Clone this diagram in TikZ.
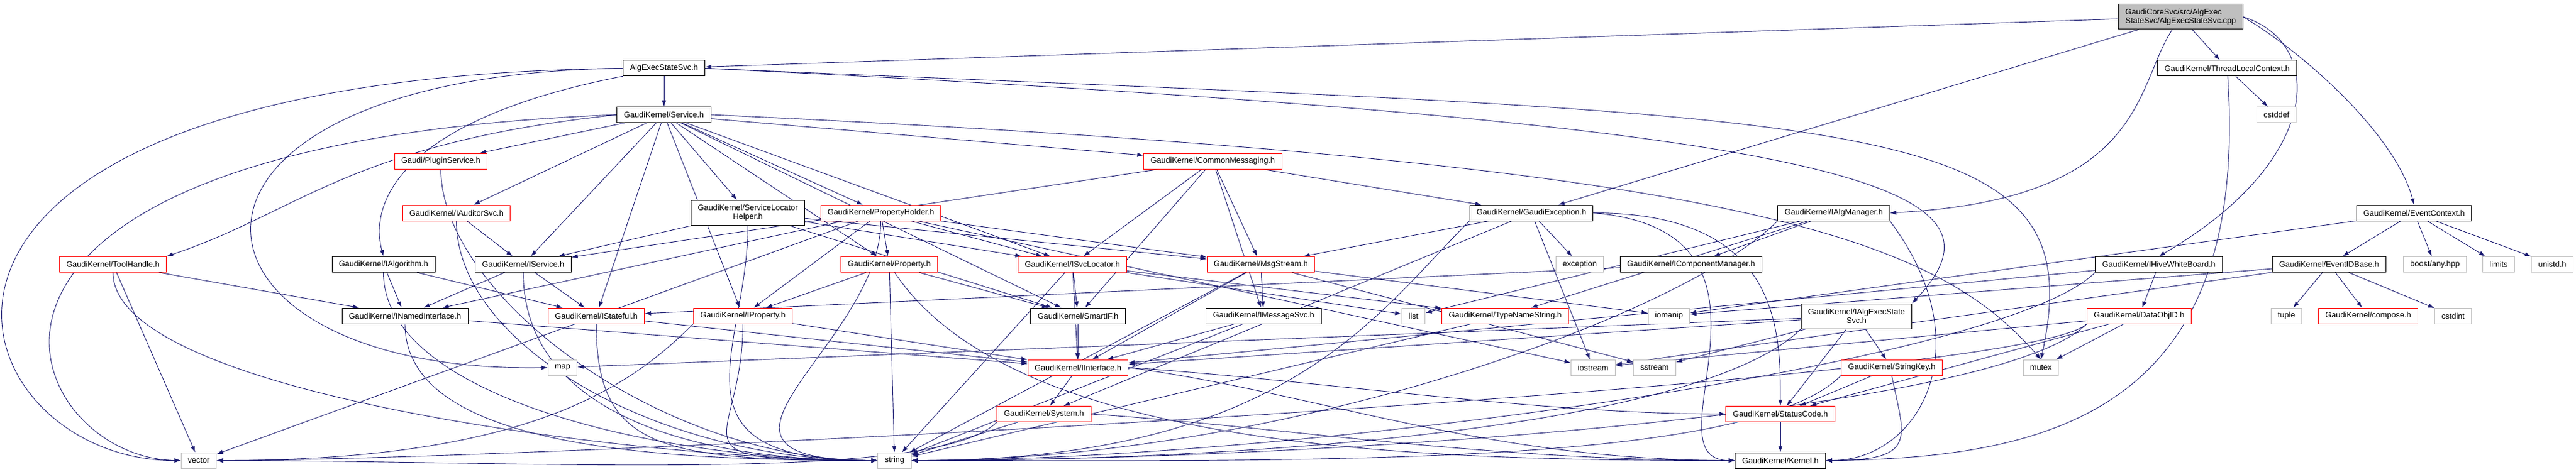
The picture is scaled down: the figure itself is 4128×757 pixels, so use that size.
\documentclass[tikz,border=0pt]{standalone}
\usepackage{fontspec}
\setmainfont{Liberation Sans}
\usepackage{tikz}
\usetikzlibrary{arrows.meta,backgrounds}

\definecolor{edgeblue}{RGB}{25,25,112}
\definecolor{sysgray}{RGB}{191,191,191}
\definecolor{rootgray}{RGB}{191,191,191}

\tikzset{
  hdr/.style={draw=black, line width=1pt, fill=white, minimum height=25pt,
    inner xsep=11pt, inner ysep=2pt, align=center,
    font=\fontsize{12.8}{14}\selectfont},
  redhdr/.style={hdr, draw=red},
  syshdr/.style={hdr, draw=sysgray},
  inc/.style={draw=edgeblue, line width=0.9pt, -{Latex[length=10pt,width=7pt]}}
}

\begin{document}
\begin{tikzpicture}[x=1pt,y=-1pt]
\useasboundingbox (0,0) rectangle (4128,757);

% files
\node[hdr, fill=rootgray, align=left, minimum height=40pt] (root) at (3494.5,27) {GaudiCoreSvc/src/AlgExec\\StateSvc/AlgExecStateSvc.cpp};
\node[hdr] (alg) at (1064,109.5) {AlgExecStateSvc.h};
\node[hdr] (tlc) at (3569,109.5) {GaudiKernel/ThreadLocalContext.h};
\node[hdr] (svc) at (1064,184) {GaudiKernel/Service.h};
\node[syshdr] (cstddef) at (3648,184) {cstddef};
\node[redhdr] (plugin) at (706.5,258.5) {Gaudi/PluginService.h};
\node[redhdr] (cm) at (1943.5,258.5) {GaudiKernel/CommonMessaging.h};
\node[redhdr] (iaud) at (731.5,341.5) {GaudiKernel/IAuditorSvc.h};
\node[hdr, minimum height=40pt] (slh) at (1198.5,341) {GaudiKernel/ServiceLocator\\Helper.h};
\node[redhdr] (ph) at (1411.5,341.5) {GaudiKernel/PropertyHolder.h};
\node[hdr] (gexc) at (2454,341.5) {GaudiKernel/GaudiException.h};
\node[hdr] (ialgmgr) at (2938.5,341.5) {GaudiKernel/IAlgManager.h};
\node[hdr] (evctx) at (3868.5,341.5) {GaudiKernel/EventContext.h};

\node[redhdr] (tool) at (181,424) {GaudiKernel/ToolHandle.h};
\node[hdr] (ialgo) at (614.5,424) {GaudiKernel/IAlgorithm.h};
\node[hdr] (isvc) at (838.5,424) {GaudiKernel/IService.h};
\node[redhdr] (prop) at (1425,424) {GaudiKernel/Property.h};
\node[redhdr] (isl) at (1718.5,424) {GaudiKernel/ISvcLocator.h};
\node[redhdr] (msg) at (2020.5,424) {GaudiKernel/MsgStream.h};
\node[syshdr] (exception) at (2531.5,424) {exception};
\node[hdr] (icm) at (2710,424) {GaudiKernel/IComponentManager.h};
\node[hdr] (ihive) at (3459.5,424) {GaudiKernel/IHiveWhiteBoard.h};
\node[hdr] (eidb) at (3732.5,424) {GaudiKernel/EventIDBase.h};
\node[syshdr] (boost) at (3902,424) {boost/any.hpp};
\node[syshdr] (limits) at (4004,424) {limits};
\node[syshdr] (unistd) at (4090,424) {unistd.h};

\node[hdr] (inamed) at (649,506.5) {GaudiKernel/INamedInterface.h};
\node[redhdr] (istate) at (955.5,506.5) {GaudiKernel/IStateful.h};
\node[redhdr] (iprop) at (1190.5,506.5) {GaudiKernel/IProperty.h};
\node[hdr] (smart) at (1727.5,506.5) {GaudiKernel/SmartIF.h};
\node[hdr] (imsg) at (2025,506.5) {GaudiKernel/IMessageSvc.h};
\node[syshdr] (list) at (2265,506.5) {list};
\node[redhdr] (typename) at (2412,506.5) {GaudiKernel/TypeNameString.h};
\node[syshdr] (iomanip) at (2674.5,506.5) {iomanip};
\node[hdr, minimum height=40pt] (iaes) at (2975,507) {GaudiKernel/IAlgExecState\\Svc.h};
\node[redhdr] (dataobj) at (3428,506.5) {GaudiKernel/DataObjID.h};
\node[syshdr] (tuple) at (3664,506.5) {tuple};
\node[redhdr] (compose) at (3795,506.5) {GaudiKernel/compose.h};
\node[syshdr] (cstdint) at (3931,506.5) {cstdint};

\node[syshdr] (map) at (901.5,589.5) {map};
\node[redhdr] (iint) at (1727.5,589.5) {GaudiKernel/IInterface.h};
\node[syshdr] (iostream) at (2553,589.5) {iostream};
\node[syshdr] (sstream) at (2651.5,589.5) {sstream};
\node[redhdr] (stringkey) at (3031.5,589.5) {GaudiKernel/StringKey.h};
\node[syshdr] (mutex) at (3270.5,589.5) {mutex};

\node[redhdr] (system) at (1673,664) {GaudiKernel/System.h};
\node[redhdr] (statuscode) at (2853,664) {GaudiKernel/StatusCode.h};

\node[syshdr] (vec) at (318.5,738.5) {vector};
\node[syshdr] (string) at (1433.5,738.5) {string};
\node[hdr] (kernel) at (2853,738.5) {GaudiKernel/Kernel.h};

% includes
\begin{pgfonlayer}{background}
\draw[inc] (root) -- (alg);
\draw[inc] (root) -- (tlc);
\draw[inc] (root) -- (gexc);
\draw[inc] (root) .. controls (3420,140) and (3440,320) .. (ialgmgr.east);
\draw[inc] (root.east) .. controls (3730,70) and (3720,260) .. (ihive.north);
\draw[inc] (root.east) .. controls (3700,90) and (3840,220) .. (evctx.north);

\draw[inc] (alg) -- (svc);
\draw[inc] (alg) .. controls (650,190) and (590,320) .. (ialgo.north);
\draw[inc] (alg.west) .. controls (-300,125) and (-80,740) .. (vec.west);
\draw[inc] (alg.west) .. controls (200,120) and (250,600) .. (map.west);
\draw[inc] (alg.east) .. controls (3000,190) and (3360,170) .. (mutex.north);
\draw[inc] (alg.east) .. controls (3000,200) and (3240,300) .. (iaes.north east);

\draw[inc] (svc.west) .. controls (560,230) and (480,340) .. (tool.north east);
\draw[inc] (svc.west) .. controls (-200,230) and (30,735) .. (vec.west);
\draw[inc] (svc.east) .. controls (2800,260) and (3100,380) .. (mutex.north);
\foreach \t in {plugin,iaud,isvc,istate,iprop,slh,ph,cm,prop,isl,smart}
  \draw[inc] (svc) -- (\t);

\draw[inc] (tlc) -- (cstddef);
\draw[inc] (tlc) .. controls (3605,650) and (3300,735) .. (kernel.east);
\foreach \t in {eidb,boost,limits,unistd,iomanip}
  \draw[inc] (evctx) -- (\t);
\foreach \t in {tuple,compose,cstdint,iostream,iomanip}
  \draw[inc] (eidb) -- (\t);
\foreach \t in {dataobj,iint}
  \draw[inc] (ihive) -- (\t);
\foreach \t in {mutex,statuscode,iostream}
  \draw[inc] (dataobj) -- (\t);

% to string and vector from the left
\foreach \s in {plugin,iaud,ialgo,isvc,inamed,istate,tool,slh,ph,iprop}
  \draw[inc] (\s.south) .. controls +(0,200) and +(-350,0) .. (string.west);
% to string and vector from the right
\foreach \s in {gexc,ialgmgr,stringkey,dataobj,iaes,ihive}
  \draw[inc] (\s.south west) .. controls +(-150,150) and +(600,0) .. (string.east);
\foreach \s in {iprop,system,dataobj}
  \draw[inc] (\s.south west) .. controls +(-100,100) and +(500,0) .. (vec.east);

\foreach \t in {inamed,vec}
  \draw[inc] (tool) -- (\t);
\draw[inc] (iaud) -- (isvc);
\foreach \t in {inamed,istate}
  \draw[inc] (ialgo) -- (\t);
\foreach \t in {isvc,smart,isl,msg}
  \draw[inc] (slh) -- (\t);
\foreach \t in {prop,iprop,inamed,vec,isl,msg,iostream}
  \draw[inc] (ph) -- (\t);
\foreach \t in {isl,smart,msg,imsg,gexc,isvc}
  \draw[inc] (cm) -- (\t);
\foreach \t in {inamed,istate}
  \draw[inc] (isvc) -- (\t);
\draw[inc] (inamed) -- (iint);
\draw[inc] (istate) -- (iint);
\draw[inc] (iprop) -- (iint);
\foreach \t in {iprop,smart,string}
  \draw[inc] (prop) -- (\t);
\draw[inc] (prop) .. controls +(200,300) and +(-500,0) .. (kernel.west);
\foreach \t in {smart,iint,string,list,typename}
  \draw[inc] (isl) -- (\t);
\draw[inc] (smart) -- (iint);
\foreach \t in {imsg,iint,string,iomanip,sstream}
  \draw[inc] (msg) -- (\t);
\foreach \t in {iint,string}
  \draw[inc] (imsg) -- (\t);
\draw[inc] (typename) -- (string);
\draw[inc] (iint) -- (system);
\draw[inc] (iint.east) .. controls +(300,20) and +(-300,0) .. (statuscode.west);
\draw[inc] (iint.east) .. controls +(300,40) and +(-400,0) .. (kernel.west);
\draw[inc] (system) -- (string);
\draw[inc] (system.east) .. controls +(300,20) and +(-400,0) .. (kernel.west);
\foreach \t in {msg,system,iostream,exception}
  \draw[inc] (gexc) -- (\t);
\draw[inc] (gexc.east) .. controls +(300,0) and +(0,-120) .. (statuscode.north);
\draw[inc] (gexc.east) .. controls +(350,30) and +(-150,0) .. (kernel.west);
\foreach \t in {icm,list,typename}
  \draw[inc] (ialgmgr) -- (\t);
\draw[inc] (ialgmgr.south east) .. controls +(150,200) and +(150,0) .. (kernel.east);
\draw[inc] (icm) -- (istate);
\foreach \t in {iint,statuscode,stringkey,map,sstream}
  \draw[inc] (iaes) -- (\t);
\draw[inc] (stringkey) -- (statuscode);
\draw[inc] (stringkey.south) .. controls +(20,100) and +(150,0) .. (kernel.east);
\draw[inc] (statuscode) -- (kernel);
\end{pgfonlayer}
\end{tikzpicture}
\end{document}
